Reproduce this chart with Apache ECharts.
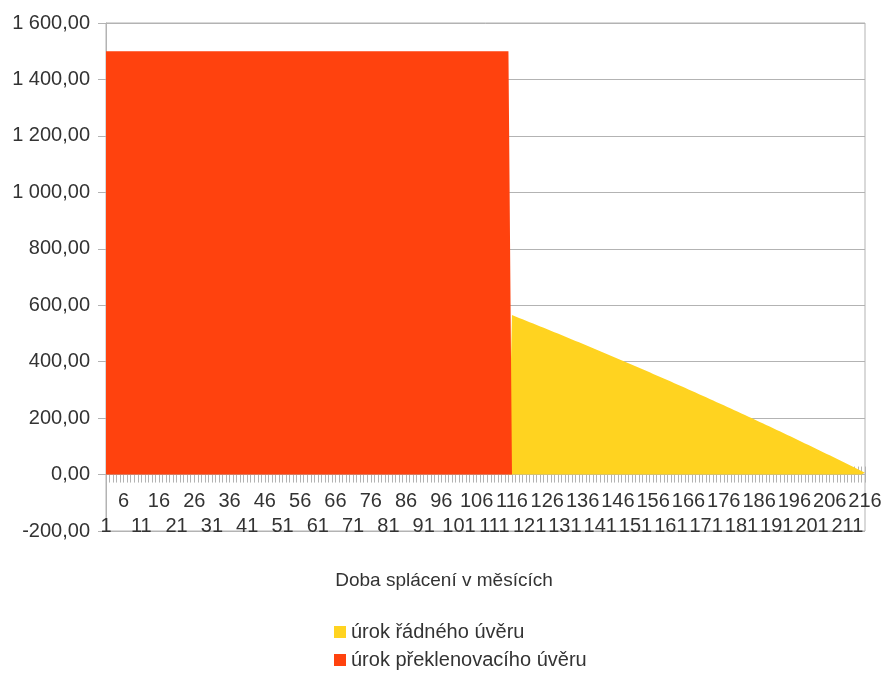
<!DOCTYPE html>
<html>
<head>
<meta charset="utf-8">
<script src="https://cdn.jsdelivr.net/npm/echarts@6/dist/echarts.min.js"></script>
<style>
html,body{margin:0;padding:0;background:#fff;}
#chart{width:888px;height:675px;}
</style>
</head>
<body>
<div id="chart"></div>
<script>
// Months (categories)
const months = [
  1,2,3,4,5,6,7,8,9,10,11,12,13,14,15,16,17,18,19,20,
  21,22,23,24,25,26,27,28,29,30,31,32,33,34,35,36,37,38,39,40,
  41,42,43,44,45,46,47,48,49,50,51,52,53,54,55,56,57,58,59,60,
  61,62,63,64,65,66,67,68,69,70,71,72,73,74,75,76,77,78,79,80,
  81,82,83,84,85,86,87,88,89,90,91,92,93,94,95,96,97,98,99,100,
  101,102,103,104,105,106,107,108,109,110,111,112,113,114,115,116,117,118,119,120,
  121,122,123,124,125,126,127,128,129,130,131,132,133,134,135,136,137,138,139,140,
  141,142,143,144,145,146,147,148,149,150,151,152,153,154,155,156,157,158,159,160,
  161,162,163,164,165,166,167,168,169,170,171,172,173,174,175,176,177,178,179,180,
  181,182,183,184,185,186,187,188,189,190,191,192,193,194,195,196,197,198,199,200,
  201,202,203,204,205,206,207,208,209,210,211,212,213,214,215,216
];

// úrok řádného úvěru (months 1..216)
const regularInterest = [
  0,0,0,0,0,0,0,0,0,0,0,0,0,0,0,0,0,0,0,0,
  0,0,0,0,0,0,0,0,0,0,0,0,0,0,0,0,0,0,0,0,
  0,0,0,0,0,0,0,0,0,0,0,0,0,0,0,0,0,0,0,0,
  0,0,0,0,0,0,0,0,0,0,0,0,0,0,0,0,0,0,0,0,
  0,0,0,0,0,0,0,0,0,0,0,0,0,0,0,0,0,0,0,0,
  0,0,0,0,0,0,0,0,0,0,0,0,0,0,0,
  565.0,560.0,555.0,550.0,545.0,540.0,535.0,529.9,524.9,519.8,
  514.7,509.6,504.5,499.4,494.3,489.1,484.0,478.8,473.6,468.4,
  463.2,458.0,452.8,447.6,442.3,437.1,431.8,426.5,421.2,415.9,
  410.6,405.3,399.9,394.6,389.2,383.8,378.4,373.0,367.6,362.2,
  356.7,351.3,345.8,340.3,334.8,329.3,323.8,318.3,312.7,307.2,
  301.6,296.0,290.4,284.8,279.2,273.5,267.9,262.2,256.6,250.9,
  245.2,239.5,233.7,228.0,222.2,216.5,210.7,204.9,199.1,193.3,
  187.5,181.6,175.8,169.9,164.0,158.1,152.2,146.3,140.3,134.4,
  128.4,122.4,116.4,110.4,104.4,98.3,92.3,86.2,80.2,74.1,
  68.0,61.8,55.7,49.6,43.4,37.2,31.0,24.8,18.6,12.4,
  6.1
];

// úrok překlenovacího úvěru (months 1..216)
const bridgeInterest = [
  1500,1500,1500,1500,1500,1500,1500,1500,1500,1500,1500,1500,1500,1500,1500,1500,1500,1500,1500,1500,
  1500,1500,1500,1500,1500,1500,1500,1500,1500,1500,1500,1500,1500,1500,1500,1500,1500,1500,1500,1500,
  1500,1500,1500,1500,1500,1500,1500,1500,1500,1500,1500,1500,1500,1500,1500,1500,1500,1500,1500,1500,
  1500,1500,1500,1500,1500,1500,1500,1500,1500,1500,1500,1500,1500,1500,1500,1500,1500,1500,1500,1500,
  1500,1500,1500,1500,1500,1500,1500,1500,1500,1500,1500,1500,1500,1500,1500,1500,1500,1500,1500,1500,
  1500,1500,1500,1500,1500,1500,1500,1500,1500,1500,1500,1500,1500,1500,1500,
  0,0,0,0,0,0,0,0,0,0,0,0,0,0,0,0,0,0,0,0,
  0,0,0,0,0,0,0,0,0,0,0,0,0,0,0,0,0,0,0,0,
  0,0,0,0,0,0,0,0,0,0,0,0,0,0,0,0,0,0,0,0,
  0,0,0,0,0,0,0,0,0,0,0,0,0,0,0,0,0,0,0,0,
  0,0,0,0,0,0,0,0,0,0,0,0,0,0,0,0,0,0,0,0,
  0
];

const seriesNames = ['úrok řádného úvěru', 'úrok překlenovacího úvěru'];
const xAxisTitle = 'Doba splácení v měsících';
const yMin = -200, yMax = 1600, yStep = 200;

const FONT = '"Liberation Sans", Arial, sans-serif';
const TXT = '#333333';
const GRID = '#b3b3b3';
const FS = 20;

// grid geometry
const G_TOP = 23, G_BOTTOM = 144, CH = 675;
const gridH = CH - G_TOP - G_BOTTOM;
// pixel distance from grid bottom (yMin) up to the zero line
const zeroOffset = gridH * (0 - yMin) / (yMax - yMin);

function fmtY(v) {
  const neg = v < 0;
  let s = Math.abs(v).toFixed(2).split('.');
  let int = s[0].replace(/\B(?=(\d{3})+(?!\d))/g, ' ');
  return (neg ? '-' : '') + int + ',' + s[1];
}

const legendText = {fontFamily: FONT, fontSize: FS, color: TXT};

// row 0: labels 6,16,...,216 ; row 1: labels 1,11,...,211
function labelAxis(rem, margin, withLine) {
  const pick = function (i) { return i % 10 === rem; };
  return {
    type: 'category',
    data: months,
    boundaryGap: false,
    position: 'bottom',
    offset: -zeroOffset,
    axisLine: {show: withLine, onZero: false, lineStyle: {color: GRID}},
    axisTick: {show: true, inside: !withLine, interval: 0, length: 8, lineStyle: {color: GRID}},
    axisLabel: {
      interval: pick,
      showMinLabel: true,
      showMaxLabel: true,
      hideOverlap: false,
      margin: margin,
      fontFamily: FONT,
      fontSize: FS,
      color: TXT,
      formatter: function (v, i) { return pick(i) ? String(v) : ''; }
    },
    splitLine: {show: false}
  };
}

const chart = echarts.init(document.getElementById('chart'), null, {renderer: 'canvas'});
chart.setOption({
  animation: false,
  backgroundColor: '#ffffff',
  textStyle: {fontFamily: FONT},
  title: {
    text: xAxisTitle,
    left: 'center',
    top: 566,
    textStyle: {fontFamily: FONT, fontSize: FS - 1, fontWeight: 'normal', color: TXT}
  },
  legend: [{
    left: 334, top: 622, padding: 0,
    itemWidth: 12, itemHeight: 12, icon: 'rect',
    data: [seriesNames[0]],
    textStyle: legendText
  }, {
    left: 334, top: 650, padding: 0,
    itemWidth: 12, itemHeight: 12, icon: 'rect',
    data: [seriesNames[1]],
    textStyle: legendText
  }],
  grid: {
    left: 106, right: 23, top: G_TOP, bottom: G_BOTTOM,
    show: true,
    borderColor: GRID,
    borderWidth: 1,
    backgroundColor: 'transparent'
  },
  xAxis: [
    labelAxis(5, 17, true),
    labelAxis(0, 42, false)
  ],
  yAxis: {
    type: 'value',
    min: yMin, max: yMax, interval: yStep,
    axisLine: {show: true, lineStyle: {color: GRID}},
    axisTick: {show: true, length: 8, lineStyle: {color: GRID}},
    axisLabel: {
      margin: 16,
      fontFamily: FONT,
      fontSize: FS,
      color: TXT,
      formatter: fmtY
    },
    splitLine: {show: true, lineStyle: {color: GRID, width: 1}}
  },
  series: [{
    name: seriesNames[0],
    type: 'line',
    xAxisIndex: 0,
    data: regularInterest,
    symbol: 'none',
    lineStyle: {width: 0},
    itemStyle: {color: '#ffd320'},
    areaStyle: {color: '#ffd320', opacity: 1},
    z: 2
  }, {
    name: seriesNames[1],
    type: 'line',
    xAxisIndex: 0,
    data: bridgeInterest,
    symbol: 'none',
    lineStyle: {width: 0},
    itemStyle: {color: '#ff420e'},
    areaStyle: {color: '#ff420e', opacity: 1},
    z: 3
  }]
});
</script>
</body>
</html>
